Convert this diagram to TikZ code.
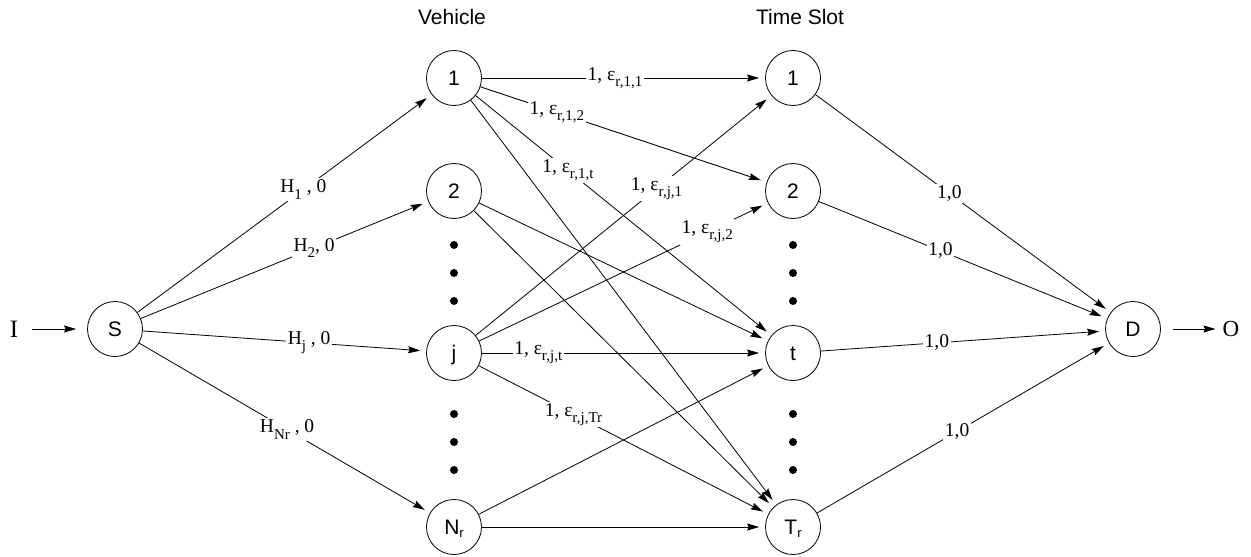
\documentclass[tikz,border=0pt]{standalone}
\usepackage{fontspec}
\setmainfont{Liberation Serif}
\newfontfamily\hv{Liberation Sans}
\usetikzlibrary{arrows.meta}

% lowered subscripts for the serif edge weights and the sans node names
\newcommand\lsub[1]{\raisebox{-0.32em}{\fontsize{15}{16}\selectfont #1}}
\newcommand\nsub[1]{\raisebox{-0.12em}{\fontsize{13}{14}\selectfont #1}}

\begin{document}
\begin{tikzpicture}[x=1pt,y=-1pt,
  state/.style={circle,draw,line width=0.8pt,minimum size=55pt,inner sep=0pt,
    text height=15pt,text depth=0pt,font=\hv\fontsize{21}{24}\selectfont},
  arr/.style={-{Stealth[length=12pt,width=7pt,inset=1.5pt]},line width=0.8pt,shorten >=6pt},
  wt/.style={fill=white,inner sep=1.5pt,font=\fontsize{19.5}{22}\selectfont},
  io/.style={inner sep=3pt},
  vdot/.style={circle,fill,inner sep=0pt,minimum size=8pt},
  head/.style={font=\hv\fontsize{21}{24}\selectfont}
]
\useasboundingbox (0,0) rectangle (1251,557);

% column headings
\node[head] (hveh) at (452,17) {Vehicle};
\node[head] (hslot) at (800,17) {Time Slot};

% source, sink and the outside terminals
\node[io,font=\fontsize{25}{28}\selectfont] (I) at (14,329) {I};
\node[state] (S) at (115,329) {S};
\node[state] (D) at (1133,329) {D};
\node[io,font=\fontsize{23}{26}\selectfont] (O) at (1231,329) {O};

% vehicle column
\node[state] (v1) at (454,78) {1};
\node[state] (v2) at (454,191) {2};
\node[state] (vj) at (454,353) {j};
\node[state] (vN) at (454,527) {N\nsub{r}};

% time slot column
\node[state] (t1) at (793,78) {1};
\node[state] (t2) at (793,191) {2};
\node[state] (tt) at (793,353) {t};
\node[state] (tT) at (793,527) {T\nsub{r}};

% ellipsis dots
\foreach \c/\x in {v/454,t/793}{
  \foreach \k/\y in {1/245,2/273,3/301,4/414,5/442,6/470}{
    \node[vdot] (\c dot\k) at (\x,\y) {};
  }
}

% input and output arrows
\draw[arr,shorten <=11pt,shorten >=11pt] (I) -- (S);
\draw[arr,shorten <=12pt,shorten >=4pt] (D) -- (O);

% unlabelled vehicle-to-slot arcs
\draw[arr] (v1) -- (tT);
\draw[arr] (v2) -- (tt);
\draw[arr] (v2) -- (tT);
\draw[arr] (vN) -- (tt);
\draw[arr] (vN) -- (tT);

% source arcs
\draw[arr] (S) -- node[wt,pos=0.564] {H\lsub{1} , 0} (v1);
\draw[arr] (S) -- node[wt,pos=0.603] {H\lsub{2}, 0} (v2);
\draw[arr] (S) -- node[wt,pos=0.587] {H\lsub{j} , 0} (vj);
\draw[arr] (S) -- node[wt,pos=0.509] {H\lsub{Nr} , 0} (vN);

% labelled vehicle-to-slot arcs
\draw[arr] (v1) -- node[wt,pos=0.470] {1, ε\lsub{r,1,1}} (t1);
\draw[arr] (v1) -- node[wt,pos=0.267] {1, ε\lsub{r,1,2}} (t2);
\draw[arr] (v1) -- node[wt,pos=0.312] {1, ε\lsub{r,1,t}} (tt);
\draw[arr] (vj) -- node[wt,pos=0.612] {1, ε\lsub{r,j,1}} (t1);
\draw[arr] (vj) -- node[wt,pos=0.790] {1, ε\lsub{r,j,2}} (t2);
\draw[arr] (vj) -- node[wt,pos=0.199] {1, ε\lsub{r,j,t}} (tt);
\draw[arr] (vj) -- node[wt,pos=0.327] {1, ε\lsub{r,j,Tr}} (tT);

% sink arcs
\draw[arr] (t1) -- node[wt,pos=0.454] {1,0} (D);
\draw[arr] (t2) -- node[wt,pos=0.422] {1,0} (D);
\draw[arr] (tt) -- node[wt,pos=0.408] {1,0} (D);
\draw[arr] (tT) -- node[wt,pos=0.48] {1,0} (D);
\end{tikzpicture}
\end{document}
